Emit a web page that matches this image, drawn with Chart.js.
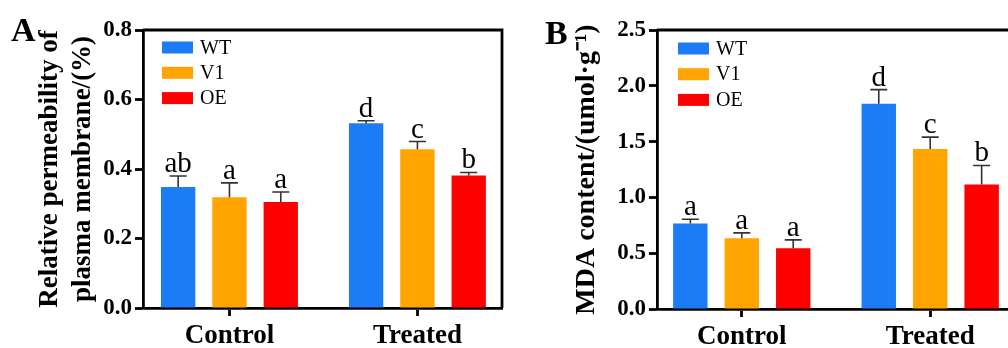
<!DOCTYPE html>
<html>
<head>
<meta charset="utf-8">
<script src="https://cdn.jsdelivr.net/npm/chart.js@4.4.0/dist/chart.umd.min.js"></script>
<style>
html,body{margin:0;padding:0;background:#fff;overflow:hidden;width:1008px;height:348px}
#wrapA{position:absolute;left:0;top:0;width:520px;height:348px}
#wrapB{position:absolute;left:510px;top:0;width:520px;height:348px}
</style>
</head>
<body>
<div id="wrapA"><canvas id="chartA" width="520" height="348"></canvas></div>
<div id="wrapB"><canvas id="chartB" width="520" height="348"></canvas></div>
<script>
var groups = ['Control', 'Treated']
var lines = ['WT', 'V1', 'OE']
var colors = ['#1b7cf6', '#ffa400', '#ff0000']

// A - relative permeability of plasma membrane (%)
var permWT = [0.348, 0.532]
var permV1 = [0.319, 0.457]
var permOE = [0.305, 0.381]
var permErrWT = [0.032, 0.007]
var permErrV1 = [0.041, 0.022]
var permErrOE = [0.029, 0.009]
var permLetWT = ['ab', 'd']
var permLetV1 = ['a', 'c']
var permLetOE = ['a', 'b']

// B - MDA content (umol/g)
var mdaWT = [0.766, 1.840]
var mdaV1 = [0.634, 1.433]
var mdaOE = [0.544, 1.116]
var mdaErrWT = [0.038, 0.126]
var mdaErrV1 = [0.048, 0.107]
var mdaErrOE = [0.075, 0.170]
var mdaLetWT = ['a', 'd']
var mdaLetV1 = ['a', 'c']
var mdaLetOE = ['a', 'b']

var serif = "'Liberation Serif', 'Times New Roman', serif"

var extras = {
    id: 'extras',
    afterDatasetsDraw: function(chart) {
        var ctx = chart.ctx
        var y = chart.scales.y
        ctx.save()
        chart.data.datasets.forEach(function(ds, i) {
            var meta = chart.getDatasetMeta(i)
            meta.data.forEach(function(bar, j) {
                var v = ds.data[j].y
                var top = y.getPixelForValue(v)
                var et = y.getPixelForValue(v + ds.err[j])
                ctx.strokeStyle = '#333'
                ctx.lineWidth = 1.6
                ctx.beginPath()
                ctx.moveTo(bar.x, top)
                ctx.lineTo(bar.x, et)
                ctx.moveTo(bar.x - 8.5, et)
                ctx.lineTo(bar.x + 8.5, et)
                ctx.stroke()
                ctx.fillStyle = '#000'
                ctx.font = '29px ' + serif
                ctx.textAlign = 'center'
                ctx.textBaseline = 'alphabetic'
                ctx.fillText(ds.letters[j], bar.x, et - 4)
            })
        })
        ctx.restore()
    },
    afterDraw: function(chart, args, o) {
        var ctx = chart.ctx
        var a = chart.chartArea
        ctx.save()
        // frame top / right
        ctx.strokeStyle = '#000'
        ctx.lineWidth = 2.8
        ctx.beginPath()
        ctx.moveTo(a.left, a.top)
        ctx.lineTo(a.right, a.top)
        ctx.lineTo(a.right, a.bottom)
        ctx.stroke()
        // legend
        ctx.font = '20px ' + serif
        ctx.textAlign = 'left'
        ctx.textBaseline = 'middle'
        chart.data.datasets.forEach(function(ds, i) {
            var cy = a.top + o.legTop + i * o.legStep
            var bx = a.left + o.legLeft
            ctx.fillStyle = ds.backgroundColor
            ctx.fillRect(bx, cy - 6, 31, 12)
            ctx.fillStyle = '#000'
            ctx.fillText(ds.label, bx + 38, cy + 1)
        })
        // panel letter
        ctx.font = 'bold 34px ' + serif
        ctx.textBaseline = 'alphabetic'
        ctx.fillText(o.panel, o.panelX, o.panelY)
        ctx.restore()
    }
}

function makeChart(id, vals, errs, lets, yMax, yStep, xMin, xMax, title, titlePad, yWidth, xHeight, padRight, opts) {
    var datasets = lines.map(function(name, k) {
        return {
            label: name,
            data: groups.map(function(g, i) { return {x: i, y: vals[k][i]} }),
            err: errs[k],
            letters: lets[k],
            backgroundColor: colors[k],
            borderWidth: 0,
            categoryPercentage: 0.819,
            barPercentage: 0.669
        }
    })
    return new Chart(document.getElementById(id).getContext('2d'), {
        type: 'bar',
        data: {datasets: datasets},
        plugins: [extras],
        options: {
            responsive: false,
            animation: false,
            layout: {padding: {top: 30, right: padRight, left: 0, bottom: 0}},
            plugins: {
                legend: {display: false},
                tooltip: {enabled: false},
                extras: opts
            },
            scales: {
                x: {
                    type: 'linear', min: xMin, max: xMax, offset: false, z: 1,
                    afterBuildTicks: function(s) { s.ticks = groups.map(function(g, i) { return {value: i} }) },
                    ticks: {
                        autoSkip: false, maxRotation: 0, padding: 4, color: '#000',
                        font: {family: serif, size: 27, weight: 'bold'},
                        callback: function(v) { return groups[v] }
                    },
                    grid: {offset: false, drawOnChartArea: false, tickLength: 8, tickWidth: 2.8, tickColor: '#000'},
                    border: {color: '#000', width: 2.8},
                    afterFit: function(s) { s.height = xHeight }
                },
                y: {
                    min: 0, max: yMax, z: 1,
                    ticks: {
                        stepSize: yStep, padding: 3, color: '#000',
                        font: {family: serif, size: 23, weight: 'bold'},
                        callback: function(v) { return v.toFixed(1) }
                    },
                    grid: {drawOnChartArea: false, tickLength: 8, tickWidth: 2.8, tickColor: '#000'},
                    border: {color: '#000', width: 2.8},
                    title: {
                        display: true, text: title, color: '#000',
                        font: {family: serif, size: title.length > 1 ? 27 : 28, weight: 'bold', lineHeight: 1.2},
                        padding: {top: titlePad, bottom: 0}
                    },
                    afterFit: function(s) { s.width = yWidth }
                }
            }
        }
    })
}

makeChart('chartA',
    [permWT, permV1, permOE], [permErrWT, permErrV1, permErrOE], [permLetWT, permLetV1, permLetOE],
    0.8, 0.2, -0.46, 1.45,
    ['Relative permeability of', 'plasma membrane/(%)'], 34, 143, 40, 18,
    {legLeft: 19, legTop: 17.5, legStep: 25.3, panel: 'A', panelX: 11, panelY: 41})

makeChart('chartB',
    [mdaWT, mdaV1, mdaOE], [mdaErrWT, mdaErrV1, mdaErrOE], [mdaLetWT, mdaLetV1, mdaLetOE],
    2.5, 0.5, -0.45, 1.45,
    ['MDA content/(umol\u00b7g\u207b\u00b9)'], 60, 147, 39, 15,
    {legLeft: 21, legTop: 18.5, legStep: 25.7, panel: 'B', panelX: 35, panelY: 44})
</script>
</body>
</html>
